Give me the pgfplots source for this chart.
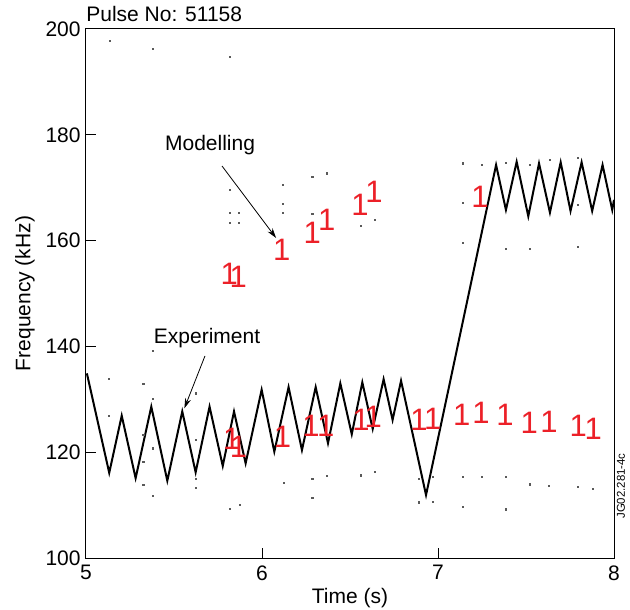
\documentclass[border=0pt]{standalone}
\usepackage{fontspec}
\setmainfont{Liberation Sans}
\usepackage{pgfplots}
\pgfplotsset{compat=1.18}
\usetikzlibrary{arrows.meta}
\definecolor{mred}{RGB}{236,32,40}
\begin{document}
\fontsize{10.5}{12.6}\selectfont
\begin{tikzpicture}
\begin{axis}[
  scale only axis, width=264pt, height=264.5pt,
  xmin=5, xmax=8, ymin=100, ymax=200,
  xtick={5,6,7,8}, ytick={100,120,...,200},
  tick pos=left, tick align=inside, major tick length=5pt,
  axis line style={line width=0.5pt}, tick style={line width=0.5pt, black},
  /pgf/number format/assume math mode=true,
  ticklabel style={font=\fontsize{10.5}{12.6}\selectfont},
  yticklabel style={xshift=1pt},
  xlabel={Time (s)}, ylabel={Frequency (kHz)},
  xlabel style={at={(axis description cs:0.5,-0.0756)}, anchor=center},
  ylabel style={at={(axis description cs:-0.1155,0.5)}, anchor=center},
  clip=false,
]
\coordinate (SW) at (rel axis cs:0,0);
\coordinate (NE) at (rel axis cs:1,1);
% background speckle dots
\addplot[only marks, mark=square*, mark size=0.3pt, black!65] table {
5.381 139.1
5.132 133.8
5.326 132.9
5.381 130.0
5.625 131.1
5.132 126.8
5.326 123.3
5.381 120.7
5.326 118.2
5.625 122.3
5.326 113.8
5.381 111.8
5.625 114.9
5.625 113.3
5.816 109.3
5.875 110.0
6.123 114.2
6.286 114.9
6.368 115.5
6.286 111.3
6.561 115.6
6.642 116.3
6.892 114.9
6.973 115.3
7.140 115.4
7.248 115.4
7.385 115.3
7.523 113.9
7.632 113.7
7.797 113.5
7.882 113.0
6.892 110.5
6.973 110.6
7.140 109.7
7.385 109.2
5.818 169.6
6.121 170.5
6.286 172.0
6.368 172.7
5.818 165.3
5.871 165.3
5.818 163.4
5.871 163.4
6.121 166.9
6.121 165.3
6.286 165.0
6.371 165.5
6.563 162.8
6.642 163.9
7.140 174.6
7.248 174.3
7.386 174.7
7.523 174.3
7.636 175.2
7.797 175.6
7.140 167.2
7.797 166.7
7.140 159.5
7.386 158.5
7.523 158.4
7.797 158.8
5.136 197.8
5.379 196.2
5.818 194.8
};
% experiment
\addplot[black, line width=1pt, line join=miter, mark=none] table {
5.005 134.9
5.132 116.1
5.203 126.9
5.282 115.1
5.371 128.6
5.462 114.6
5.547 127.7
5.623 116.2
5.702 128.6
5.777 117.4
5.841 127.7
5.907 117.9
5.998 131.8
6.070 120.1
6.151 132.3
6.227 120.4
6.305 132.3
6.375 121.7
6.445 133.0
6.510 123.4
6.570 133.2
6.629 124.4
6.691 133.8
6.742 126.1
6.790 133.5
6.932 111.9
7.330 174.3
7.386 165.8
7.447 174.9
7.513 164.6
7.574 174.6
7.636 165.3
7.697 174.8
7.753 165.6
7.816 174.8
7.876 165.6
7.935 174.3
7.990 165.8
8.000 167.7
};
% modelling marks
\addplot[only marks, color=mred, mark=text,
  text mark={\fontsize{15.5}{15.5}\selectfont\textcolor{mred}{1}}] table {
5.828 122.6
5.866 121.0
6.116 122.9
6.278 125.0
6.362 125.0
6.562 126.1
6.632 126.7
6.892 126.1
6.970 126.4
7.135 127.0
7.244 127.4
7.381 127.0
7.519 125.5
7.631 125.8
7.797 125.0
7.882 124.5
5.814 153.8
5.865 153.2
6.112 158.2
6.286 161.4
6.368 163.9
6.557 166.7
6.636 169.2
7.239 168.3
};
\node[font=\fontsize{10.5}{12.6}\selectfont] at (axis cs:5.705,178.1) {Modelling};
\draw[-{Stealth[length=5pt,width=3pt]}, line width=0.4pt] (axis cs:5.773,174.1) -- (axis cs:6.080,160.5);
\node[font=\fontsize{10.5}{12.6}\selectfont] at (axis cs:5.688,141.6) {Experiment};
\draw[-{Stealth[length=5pt,width=3pt]}, line width=0.4pt] (axis cs:5.676,138.2) -- (axis cs:5.559,128.3);
\node[anchor=base west, font=\fontsize{10.5}{12.6}\selectfont, inner sep=0pt] at ([yshift=3.5pt]rel axis cs:0,1) {Pulse No: 51158};
\node[rotate=90, anchor=center, font=\fontsize{5.7}{6}\selectfont, inner sep=0pt] at ([xshift=3.5pt]rel axis cs:1,0.136) {JG02.281-4c};
\end{axis}
\pgfresetboundingbox
\path ([shift={(-43pt,-25.5pt)}]SW) rectangle ([shift={(8pt,14.5pt)}]NE);
\end{tikzpicture}
\end{document}
